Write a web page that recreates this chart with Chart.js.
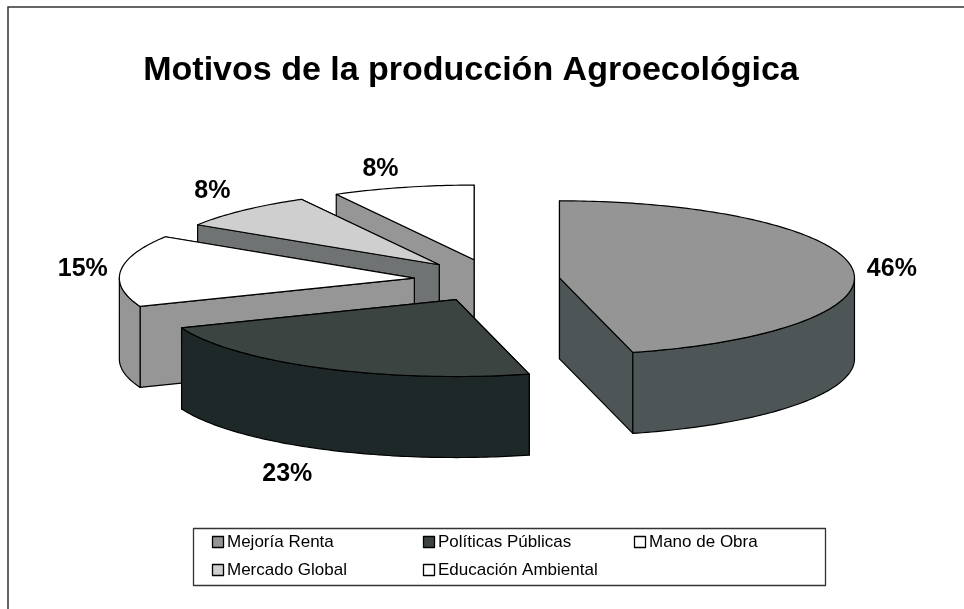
<!DOCTYPE html>
<html>
<head>
<meta charset="utf-8">
<title>Motivos de la producción Agroecológica</title>
<style>
    html, body { margin: 0; padding: 0; background: #fff; overflow: hidden; }
    canvas { display: block; }
</style>
<script src="https://cdn.jsdelivr.net/npm/chart.js@4"></script>
</head>
<body>
<canvas id="pie" width="964" height="609"></canvas>
<script>
(function () {
    'use strict';

    var titleText = 'Motivos de la producción Agroecológica';
    var categories = ['Mejoría Renta', 'Políticas Públicas', 'Mano de Obra', 'Mercado Global', 'Educación Ambiental'];
    var values = [46, 23, 15, 8, 8];

    // estilos de cada porción
    var topColors = ['#959595', '#3c4442', '#ffffff', '#cfcfcf', '#ffffff'];
    var sideColors = ['#4d5556', '#1e2828', '#969696', '#6f7373', '#969696'];
    var explode = [66, 84, 80, 80, 80];
    var sliceScale = [1, 1, 1, 0.97, 0.97];    // las del fondo se ven algo más chicas
    var labelNudge = [[2, 4], [-11, 1], [0, 1], [-5, 0], [-13, 8]];

    // de atrás hacia adelante
    var paintOrder = [4, 3, 2, 0, 1];

    var FONT = '"Liberation Sans", Arial, sans-serif';
    var view = { x: 494, y: 280, rx: 295, tilt: 0.261, depth: 81 };
    var legendBox = { x: 193.5, y: 528.5, w: 632, h: 57, cols: [212, 423, 634], rows: [542, 570] };

    function apex(arc, i, drop) {
        var mid = (arc.startAngle + arc.endAngle) / 2;
        return {
            x: view.x + Math.cos(mid) * explode[i],
            y: view.y + Math.sin(mid) * explode[i] * view.tilt + drop
        };
    }

    function project(arc, i, angle, drop) {
        var a = apex(arc, i, drop);
        var r = view.rx * sliceScale[i];
        return {
            x: a.x + Math.cos(angle) * r,
            y: a.y + Math.sin(angle) * r * view.tilt
        };
    }

    function arcPoints(arc, i, from, to, drop) {
        var pts = [];
        var steps = Math.max(2, Math.ceil((to - from) * 60));
        for (var s = 0; s <= steps; s++) {
            pts.push(project(arc, i, from + (to - from) * s / steps, drop));
        }
        return pts;
    }

    function shape(ctx, pts, fill) {
        ctx.beginPath();
        pts.forEach(function (p, n) {
            if (n === 0) ctx.moveTo(p.x, p.y);
            else ctx.lineTo(p.x, p.y);
        });
        ctx.closePath();
        if (fill) {
            ctx.fillStyle = fill;
            ctx.fill();
        }
        ctx.strokeStyle = '#000';
        ctx.lineWidth = 1.2;
        ctx.lineJoin = 'round';
        ctx.stroke();
    }

    function radialWall(ctx, arc, i, angle) {
        shape(ctx, [
            apex(arc, i, 0),
            project(arc, i, angle, 0),
            project(arc, i, angle, view.depth),
            apex(arc, i, view.depth)
        ], sideColors[i]);
    }

    function drawSlice(chart, ctx, arc, i) {
        // primero la pared de más atrás, la otra la tapa
        [arc.startAngle, arc.endAngle].sort(function (a, b) {
            return Math.sin(a) - Math.sin(b);
        }).forEach(function (angle) {
            radialWall(ctx, arc, i, angle);
        });

        // pared exterior, solo la mitad delantera se ve
        var lo = Math.max(arc.startAngle, 0);
        var hi = Math.min(arc.endAngle, Math.PI);
        if (lo < hi) {
            shape(ctx, arcPoints(arc, i, lo, hi, 0).concat(arcPoints(arc, i, lo, hi, view.depth).reverse()), sideColors[i]);
        }

        // la cara superior la pinta el propio arco de Chart.js
        var a = apex(arc, i, 0);
        var k = view.rx * sliceScale[i] / arc.outerRadius;
        ctx.save();
        ctx.translate(a.x, a.y);
        ctx.scale(k, k * view.tilt);
        ctx.translate(-arc.x, -arc.y);
        arc.draw(ctx, chart.chartArea);
        ctx.restore();

        shape(ctx, [a].concat(arcPoints(arc, i, arc.startAngle, arc.endAngle, 0)), null);
    }

    function drawLabel(ctx, arc, i) {
        var mid = (arc.startAngle + arc.endAngle) / 2;
        var p = project(arc, i, mid, Math.sin(mid) > 0.3 ? view.depth : 0);
        var gapX = Math.sin(mid) > 0.3 ? 52 : 38;
        ctx.fillStyle = '#000';
        ctx.font = 'bold 25px ' + FONT;
        ctx.textAlign = 'center';
        ctx.textBaseline = 'middle';
        ctx.fillText(values[i] + '%',
            p.x + Math.cos(mid) * gapX + labelNudge[i][0],
            p.y + Math.sin(mid) * 27 + labelNudge[i][1]);
    }

    function drawLegend(ctx) {
        var b = legendBox;
        ctx.strokeStyle = '#333';
        ctx.lineWidth = 1.3;
        ctx.strokeRect(b.x, b.y, b.w, b.h);
        ctx.font = '17px ' + FONT;
        ctx.textAlign = 'left';
        ctx.textBaseline = 'middle';
        categories.forEach(function (name, i) {
            var x = b.cols[i % 3];
            var y = b.rows[Math.floor(i / 3)];
            ctx.fillStyle = topColors[i];
            ctx.fillRect(x + 0.5, y - 5.5, 11, 11);
            ctx.strokeStyle = '#000';
            ctx.strokeRect(x + 0.5, y - 5.5, 11, 11);
            ctx.fillStyle = '#000';
            ctx.fillText(name, x + 15, y);
        });
    }

    var pie3d = {
        id: 'pie3d',
        beforeDraw: function (chart) {
            // marco de la figura
            var ctx = chart.ctx;
            ctx.save();
            ctx.strokeStyle = '#333';
            ctx.lineWidth = 1.5;
            ctx.beginPath();
            ctx.moveTo(8, 609);
            ctx.lineTo(8, 7);
            ctx.lineTo(964, 7);
            ctx.stroke();
            ctx.restore();
        },
        beforeDatasetsDraw: function (chart) {
            var ctx = chart.ctx;
            var arcs = chart.getDatasetMeta(0).data;
            ctx.save();
            paintOrder.forEach(function (i) {
                drawSlice(chart, ctx, arcs[i], i);
            });
            paintOrder.forEach(function (i) {
                drawLabel(ctx, arcs[i], i);
            });
            drawLegend(ctx);
            ctx.restore();
            return false;
        }
    };

    new Chart(document.getElementById('pie'), {
        type: 'pie',
        data: {
            labels: categories,
            datasets: [{
                data: values,
                backgroundColor: topColors,
                borderWidth: 0,
                radius: 190
            }]
        },
        options: {
            responsive: false,
            animation: false,
            layout: { padding: { left: 0, right: 22, top: 50, bottom: 0 } },
            plugins: {
                legend: { display: false },
                tooltip: { enabled: false },
                title: {
                    display: true,
                    text: titleText,
                    color: '#000',
                    font: { family: FONT, size: 34, weight: 'bold' },
                    padding: { top: 0, bottom: 10 }
                }
            }
        },
        plugins: [pie3d]
    });
})();
</script>
</body>
</html>
